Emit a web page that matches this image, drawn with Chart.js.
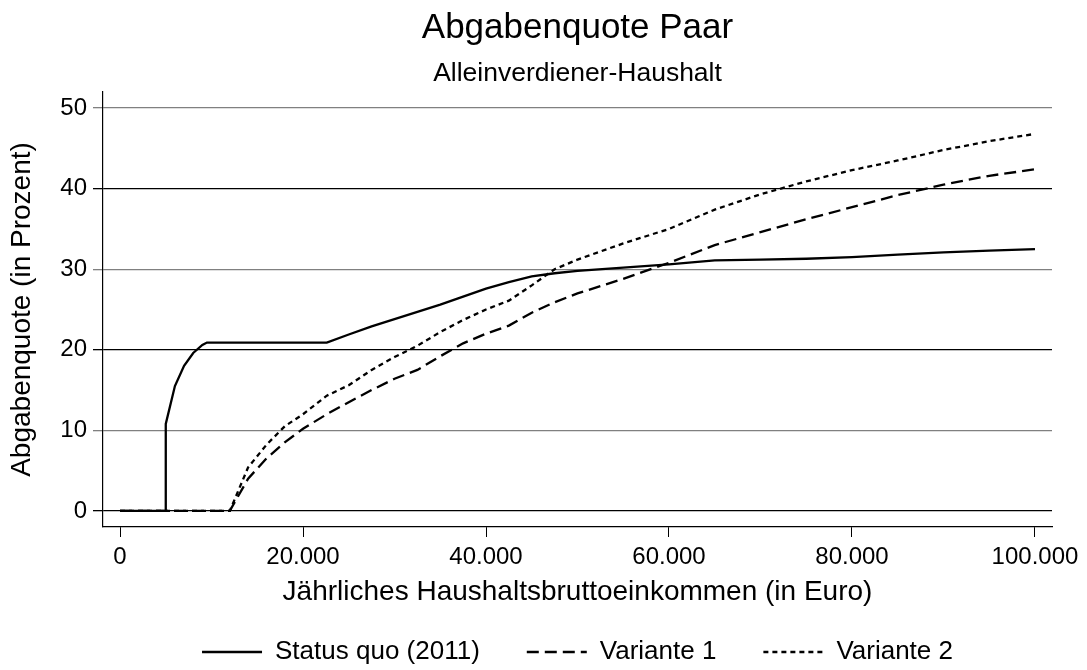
<!DOCTYPE html>
<html>
<head>
<meta charset="utf-8">
<script src="https://cdn.jsdelivr.net/npm/chart.js@4"></script>
<style>
  html, body { margin: 0; padding: 0; background: #fff; }
  #wrap { width: 1087px; height: 670px; }
</style>
</head>
<body>
<div id="wrap"><canvas id="grafica"></canvas></div>
<script>
// Jahreseinkommen (Euro) - gemeinsame x-Werte
const einkommen = [0, 5000, 5000, 6000, 7000, 8000, 9000, 9500, 12000, 14000, 16000, 18000, 20000,
  22600, 25000, 27500, 30000, 32500, 35000, 37500, 40000, 42500, 45000, 47500, 50000,
  55000, 60000, 65000, 70000, 75000, 80000, 85000, 90000, 95000, 100000]

const statusQuo = [0, 0, 10.8, 15.5, 18.0, 19.6, 20.6, 20.9, 20.9, 20.9, 20.9, 20.9, 20.9,
  20.9, 21.9, 22.9, 23.8, 24.7, 25.6, 26.6, 27.6, 28.4, 29.1, 29.5, 29.8,
  30.2, 30.6, 31.1, 31.2, 31.3, 31.5, 31.8, 32.1, 32.3, 32.5]

const variante1 = [0, 0, 0, 0, 0, 0, 0, 0, 0, 4.0, 6.5, 8.5, 10.2,
  12.0, 13.5, 15.0, 16.4, 17.5, 19.2, 20.8, 22.0, 23.0, 24.6, 25.9, 27.0,
  28.8, 30.8, 33.0, 34.6, 36.2, 37.7, 39.2, 40.5, 41.6, 42.4]

const variante2 = [0, 0, 0, 0, 0, 0, 0, 0, 0, 5.4, 8.2, 10.5, 12.0,
  14.3, 15.6, 17.5, 19.1, 20.5, 22.2, 23.7, 25.0, 26.1, 28.0, 30.0, 31.2,
  33.2, 35.0, 37.4, 39.3, 40.9, 42.3, 43.5, 44.8, 45.9, 46.8]

const xTicks = [0, 20000, 40000, 60000, 80000, 100000]
const yTicks = [0, 10, 20, 30, 40, 50]

const schrift = "'Liberation Sans', Arial, sans-serif"

function punkte(werte) {
  return werte.map((v, i) => ({ x: einkommen[i], y: v }))
}

const dataset1 = {
  label: 'Status quo (2011)',
  data: punkte(statusQuo),
  borderColor: '#000',
  borderWidth: 2.3,
  borderDash: [],
  pointRadius: 0,
  tension: 0
}
const dataset2 = {
  label: 'Variante 1',
  data: punkte(variante1),
  borderColor: '#000',
  borderWidth: 2.3,
  borderDash: [12, 6],
  pointRadius: 0,
  tension: 0
}
const dataset3 = {
  label: 'Variante 2',
  data: punkte(variante2),
  borderColor: '#000',
  borderWidth: 2.3,
  borderDash: [5, 4],
  pointRadius: 0,
  tension: 0
}

const config = {
  type: 'line',
  data: { datasets: [dataset1, dataset2, dataset3] },
  options: {
    responsive: true,
    maintainAspectRatio: false,
    animation: false,
    layout: { padding: { left: 0, right: 35, top: 0, bottom: 0 } },
    plugins: {
      title: {
        display: true,
        fullSize: false,
        text: 'Abgabenquote Paar',
        color: '#000',
        font: { family: schrift, size: 35, weight: 'normal' },
        padding: { top: 7.4, bottom: 0 }
      },
      subtitle: {
        display: true,
        fullSize: false,
        text: 'Alleinverdiener-Haushalt',
        color: '#000',
        font: { family: schrift, size: 26.5, weight: 'normal' },
        padding: { top: 8.4, bottom: 2.4 }
      },
      legend: {
        position: 'bottom',
        fullSize: false,
        maxHeight: 78,
        labels: {
          color: '#000',
          font: { family: schrift, size: 26 },
          usePointStyle: true,
          pointStyle: 'line',
          pointStyleWidth: 60,
          padding: 47,
          generateLabels: (chart) => Chart.defaults.plugins.legend.labels.generateLabels(chart).map(l => {
            l.lineDash = chart.data.datasets[l.datasetIndex].borderDash
            l.lineWidth = 2.3
            l.strokeStyle = '#000'
            return l
          })
        }
      },
      tooltip: { enabled: false }
    },
    scales: {
      x: {
        type: 'linear',
        min: -1860,
        max: 101860,
        afterBuildTicks: (s) => { s.ticks = xTicks.map(v => ({ value: v })) },
        ticks: {
          color: '#000',
          font: { family: schrift, size: 24 },
          padding: 5.6,
          maxRotation: 0,
          callback: (v) => v.toLocaleString('de-DE')
        },
        grid: { display: true, drawOnChartArea: false, drawTicks: true, tickLength: 10, color: '#000', lineWidth: 1 },
        border: { display: true, color: '#000', width: 1.2 },
        title: {
          display: true,
          text: 'Jährliches Haushaltsbruttoeinkommen (in Euro)',
          color: '#000',
          font: { family: schrift, size: 28 },
          padding: { top: 0, bottom: -17 }
        },
        afterFit: (s) => { s.height = 65 }
      },
      y: {
        min: -2,
        max: 52,
        afterBuildTicks: (s) => { s.ticks = yTicks.map(v => ({ value: v })) },
        ticks: {
          color: '#000',
          font: { family: schrift, size: 24 },
          padding: 6
        },
        grid: {
          tickLength: 10,
          lineWidth: 1.3,
          color: (ctx) => (ctx.tick && (ctx.tick.value === 10 || ctx.tick.value === 30 || ctx.tick.value === 50)) ? '#808080' : '#000'
        },
        border: { display: true, color: '#000', width: 1.2 },
        title: {
          display: true,
          text: 'Abgabenquote (in Prozent)',
          color: '#000',
          font: { family: schrift, size: 28 },
          padding: { top: 5, bottom: 0 }
        },
        afterFit: (s) => { s.width = 103 }
      }
    }
  }
}

new Chart(document.getElementById('grafica'), config)
</script>
</body>
</html>
